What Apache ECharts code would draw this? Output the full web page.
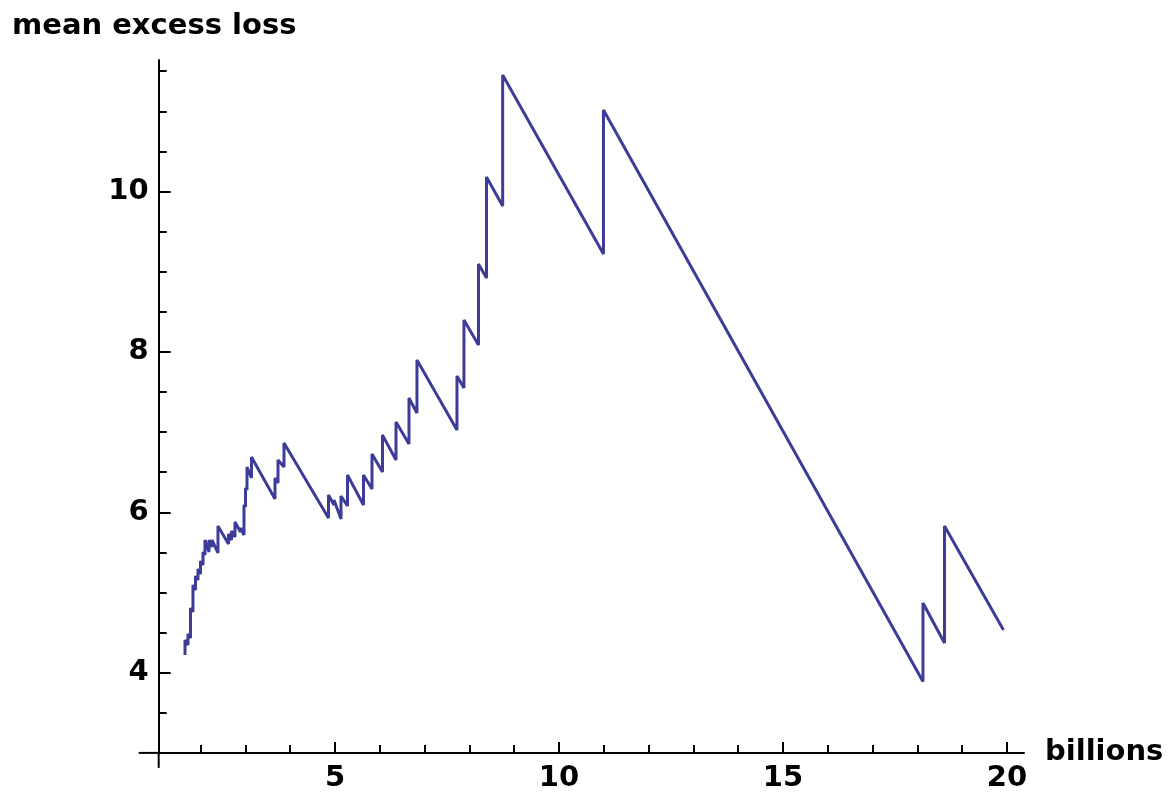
<!DOCTYPE html>
<html>
<head>
<meta charset="utf-8">
<script src="https://cdn.jsdelivr.net/npm/echarts@6/dist/echarts.min.js"></script>
<style>
  html, body { margin: 0; padding: 0; background: #ffffff; }
  #chart { width: 1174px; height: 796px; }
</style>
</head>
<body>
<div id="chart"></div>
<script>
// Empirical mean excess loss: between thresholds it falls with slope -1,
// and at each observed loss it jumps from lossBefore to lossAfter.
const jumpAt = [
  1.652, 1.719, 1.775, 1.830, 1.886, 1.942, 1.998, 2.054, 2.098, 2.188,
  2.254, 2.388, 2.623, 2.690, 2.768, 2.891, 2.969, 3.002, 3.036, 3.136,
  3.661, 3.728, 3.862, 4.855, 4.978, 5.134, 5.279, 5.636, 5.826, 6.060,
  6.362, 6.652, 6.830, 7.723, 7.879, 8.203, 8.382, 8.743, 10.993, 18.125,
  18.605
];
const lossBefore = [
  4.221, 4.345, 4.433, 4.757, 5.031, 5.156, 5.231, 5.343, 5.468, 5.505,
  5.567, 5.493, 5.605, 5.655, 5.692, 5.754, 5.717, 6.066, 6.278, 6.428,
  6.166, 6.365, 6.565, 5.929, 6.091, 5.916, 6.079, 6.091, 6.290, 6.503,
  6.652, 6.852, 7.238, 7.026, 7.550, 8.086, 8.921, 9.819, 9.221, 3.890,
  4.370
];
const lossAfter = [
  4.408, 4.483, 4.807, 5.094, 5.206, 5.293, 5.393, 5.505, 5.655, 5.655,
  5.655, 5.829, 5.729, 5.767, 5.879, 5.804, 6.091, 6.303, 6.565, 6.690,
  6.428, 6.652, 6.864, 6.216, 6.153, 6.203, 6.465, 6.465, 6.727, 6.964,
  7.126, 7.425, 7.899, 7.700, 8.398, 9.096, 10.181, 11.453, 11.016, 4.869,
  5.829
];
const lastThreshold = 19.922;
const lastLoss = 4.532;

// Axis ticks and labels
const xMajorTicks = [5, 10, 15, 20];
const xMinorTicks = [2, 3, 4, 6, 7, 8, 9, 11, 12, 13, 14, 16, 17, 18, 19];
const yMajorTicks = [4, 6, 8, 10];
const yMinorTicks = [3.5, 4.5, 5, 5.5, 6.5, 7, 7.5, 8.5, 9, 9.5, 10.5, 11, 11.5];

const X_MIN = 1.065, X_MAX = 20.38;
const Y_MIN = 3, Y_MAX = 11.64;

const points = [];
jumpAt.forEach((x, i) => {
  points.push([x, lossBefore[i]]);
  points.push([x, lossAfter[i]]);
});
points.push([lastThreshold, lastLoss]);

const FONT = 'DejaVu Sans';
const labelStyle = { fontFamily: FONT, fontWeight: 'bold', fontSize: 29, color: '#000' };
const black = { color: '#000', width: 2 };

const chart = echarts.init(document.getElementById('chart'), null, { renderer: 'canvas' });

chart.setOption({
  animation: false,
  backgroundColor: '#ffffff',
  title: {
    text: 'mean excess loss',
    left: 7,
    top: 7,
    textStyle: labelStyle
  },
  grid: { left: 158.7, right: 150, top: 60, bottom: 43.1, containLabel: false },
  xAxis: [
    {
      type: 'value', min: X_MIN, max: X_MAX, position: 'bottom',
      axisLine: { show: true, lineStyle: black },
      axisTick: { show: true, inside: true, length: 8, lineStyle: black, customValues: xMinorTicks },
      axisLabel: { show: false },
      splitLine: { show: false }
    },
    {
      type: 'value', min: X_MIN, max: X_MAX, position: 'bottom',
      name: 'billions', nameLocation: 'end', nameGap: 21,
      nameTextStyle: labelStyle,
      axisLine: { show: false },
      axisTick: { show: true, inside: true, length: 11, lineStyle: black, customValues: xMajorTicks },
      axisLabel: { show: true, margin: 11, customValues: xMajorTicks, ...labelStyle },
      splitLine: { show: false }
    }
  ],
  yAxis: [
    {
      type: 'value', min: Y_MIN, max: Y_MAX, position: 'left',
      axisLine: { show: true, lineStyle: black },
      axisTick: { show: true, inside: true, length: 8, lineStyle: black, customValues: yMinorTicks },
      axisLabel: { show: false },
      splitLine: { show: false }
    },
    {
      type: 'value', min: Y_MIN, max: Y_MAX, position: 'left',
      axisLine: { show: false },
      axisTick: { show: true, inside: true, length: 12, lineStyle: black, customValues: yMajorTicks },
      axisLabel: { show: true, margin: 10, padding: [4, 0, 0, 0], customValues: yMajorTicks, ...labelStyle },
      splitLine: { show: false }
    }
  ],
  series: [{
    type: 'line',
    data: points,
    xAxisIndex: 0,
    yAxisIndex: 0,
    showSymbol: false,
    symbol: 'none',
    lineStyle: { color: '#3d3d99', width: 3 }
  }]
});

// Axes extend a little past the point where they cross.
const origin = chart.convertToPixel({ xAxisIndex: 0, yAxisIndex: 0 }, [X_MIN, Y_MIN]);
chart.setOption({
  graphic: [
    { type: 'line', shape: { x1: origin[0] - 20, y1: origin[1], x2: origin[0], y2: origin[1] }, style: { stroke: '#000', lineWidth: 2 } },
    { type: 'line', shape: { x1: origin[0], y1: origin[1], x2: origin[0], y2: origin[1] + 15 }, style: { stroke: '#000', lineWidth: 2 } }
  ]
});
</script>
</body>
</html>
